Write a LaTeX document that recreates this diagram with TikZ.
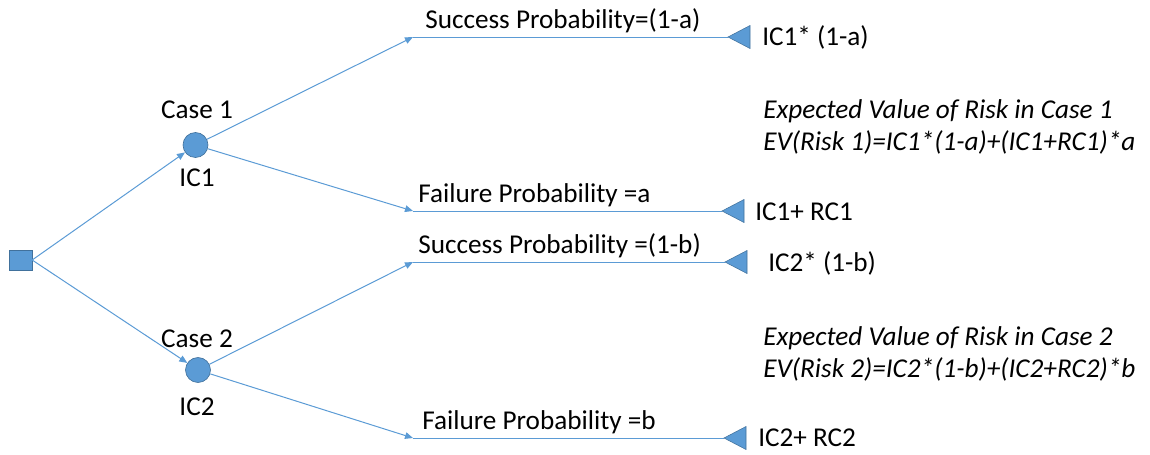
\documentclass[tikz,border=0pt]{standalone}
\usepackage{fontspec}
\setmainfont{Carlito}
\usetikzlibrary{arrows.meta}
\definecolor{lb}{HTML}{5B9BD5}
\definecolor{db}{HTML}{41719C}
\begin{document}
\begin{tikzpicture}[x=0.75pt,y=-0.75pt,
 every node/.style={font=\fontsize{20.4}{24}\selectfont},
 conn/.style={draw=lb, line width=0.75pt},
 arr/.style={conn,-{Triangle[length=6pt,width=5pt]}},
 decbox/.style={rectangle, draw=db, fill=lb, minimum width=17pt, minimum height=15pt, inner sep=0pt, line width=0.5pt},
 chance/.style={circle, draw=db, fill=lb, minimum size=18.75pt, inner sep=0pt, line width=0.5pt},
 lbl/.style={anchor=west, inner sep=0pt},
 evtext/.style={anchor=west, inner sep=0pt, font=\fontsize{20.4}{24}\selectfont\itshape},
 endtri/.style={fill=lb, draw=db, line width=0.4pt}]
\useasboundingbox (0,0) rectangle (1150,454);

% decision and chance nodes
\node[decbox] (sq) at (20.5,260) {};
\node[chance] (c1) at (195.5,145) {};
\node[chance] (c2) at (198,370) {};
\node (case1) at (197,110) {Case 1};
\node (ic1) at (197,178) {IC1};
\node (case2) at (197,339) {Case 2};
\node (ic2) at (197,407) {IC2};

% branch points and end points
\coordinate (s1) at (413,37);
\coordinate (f1) at (413,211);
\coordinate (s2) at (413,262);
\coordinate (f2) at (413,438);
\coordinate (t1) at (728,37);
\coordinate (t2) at (722,211);
\coordinate (t3) at (725,262);
\coordinate (t4) at (724,438);

% connectors
\draw[arr] (sq.east) -- (c1);
\draw[arr] (sq.east) -- (c2);
\draw[arr] (c1) -- (s1);
\draw[arr] (c1) -- (f1);
\draw[arr] (c2) -- (s2);
\draw[arr] (c2) -- (f2);
\draw[conn] (s1) -- (t1);
\draw[conn] (f1) -- (t2);
\draw[conn] (s2) -- (t3);
\draw[conn] (f2) -- (t4);

% end triangles
\foreach \t in {t1,t2,t3,t4}{
  \filldraw[endtri] (\t) -- ++(22,-11.5) -- ++(0,23) -- cycle;
}

% branch labels
\node[lbl] (ls1) at (425,21) {Success Probability=(1-a)};
\node[lbl] (lf1) at (418,195) {Failure Probability =a};
\node[lbl] (ls2) at (418,246) {Success Probability =(1-b)};
\node[lbl] (lf2) at (422,422) {Failure Probability =b};

% outcome labels
\node[lbl] (o1) at (762,37) {IC1* (1-a)};
\node[lbl] (o2) at (755,212) {IC1+ RC1};
\node[lbl] (o3) at (768,263) {IC2* (1-b)};
\node[lbl] (o4) at (758,438) {IC2+ RC2};

% expected values
\node[evtext] (e1a) at (763,111) {Expected Value of Risk in Case 1};
\node[evtext] (e1b) at (763,142) {EV(Risk 1)=IC1*(1-a)+(IC1+RC1)*a};
\node[evtext] (e2a) at (763,338) {Expected Value of Risk in Case 2};
\node[evtext] (e2b) at (763,369) {EV(Risk 2)=IC2*(1-b)+(IC2+RC2)*b};
\end{tikzpicture}
\end{document}
